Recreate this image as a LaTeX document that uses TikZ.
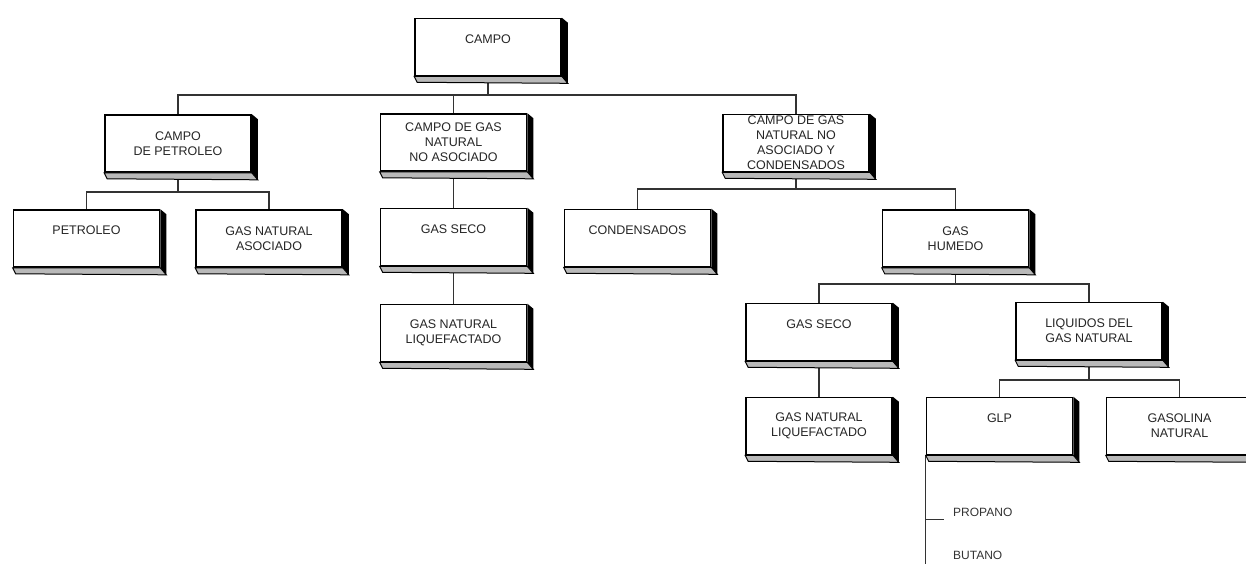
\documentclass[tikz,border=0pt]{standalone}
\usepackage{fontspec}
\setmainfont{Liberation Sans}
\usetikzlibrary{calc,backgrounds}
\tikzset{
  box/.style={draw=black, line width=1.6pt, fill=white, minimum width=146pt, minimum height=57pt,
    inner sep=0pt, align=center, font=\fontsize{12.5}{15}\selectfont, text=black!85},
  oneline/.style={text depth=16pt},
  link/.style={draw=black!80, line width=1.3pt},
  lbl/.style={font=\fontsize{12}{15}\selectfont, text=black!80, anchor=west, inner sep=0pt},
}
\begin{document}
\begin{tikzpicture}[x=1pt,y=-1pt]
\useasboundingbox (0,0) rectangle (1246,563);
% boxes
\node[box,oneline] (campo)    at (488,47)     {CAMPO};
\node[box] (petcampo) at (178,143.5)  {CAMPO\\DE PETROLEO};
\node[box] (nasoc)    at (453.5,142.5){CAMPO DE GAS\\NATURAL\\NO ASOCIADO};
\node[box] (cond4)    at (796,143)    {CAMPO DE GAS\\NATURAL NO\\ASOCIADO Y\\CONDENSADOS};
\node[box,oneline] (petroleo) at (86.5,238.5) {PETROLEO};
\node[box] (gasnat)   at (269,238.5)  {GAS NATURAL\\ASOCIADO};
\node[box,oneline] (gasseco1) at (453.5,237)  {GAS SECO};
\node[box] (gnl1)     at (453.5,333)  {GAS NATURAL\\LIQUEFACTADO};
\node[box,oneline] (condens)  at (637.5,238)  {CONDENSADOS};
\node[box] (humedo)   at (955.5,238.5){GAS\\HUMEDO};
\node[box,oneline] (gasseco2) at (819,332)    {GAS SECO};
\node[box] (liquidos) at (1089,331)   {LIQUIDOS DEL\\GAS NATURAL};
\node[box] (gnl2)     at (819,426)    {GAS NATURAL\\LIQUEFACTADO};
\node[box,oneline] (glp)      at (999.5,426)  {GLP};
\node[box] (gasolina) at (1179.5,426) {GASOLINA\\NATURAL};
% 3D faces
\foreach \n in {campo,petcampo,nasoc,cond4,petroleo,gasnat,gasseco1,gnl1,condens,humedo,gasseco2,liquidos,gnl2,glp,gasolina}{
  \fill[black] (\n.north east) -- ++(6,5) -- ($(\n.south east)+(6,7)$) -- (\n.south east) -- cycle;
  \filldraw[fill=gray!55, draw=black, line width=1pt] (\n.south west) -- ++(3,6) -- ($(\n.south east)+(6,7)$) -- (\n.south east) -- cycle;
}
% bus levels
\coordinate (b1) at (0,95);
\coordinate (b2) at (0,192);
\coordinate (b3) at (0,189);
\coordinate (b4) at (0,284);
\coordinate (b5) at (0,380);
\coordinate (glpend) at ($(glp.south west)+(0,130)$);
\coordinate (proptick) at ($(glp.south west)+(0,64)$);
\begin{scope}[on background layer]
  \draw[link] (campo.south) -- (campo.south |- b1);
  \draw[link] (petcampo.north) |- (b1 -| cond4.north) -- (cond4.north);
  \draw[link] (nasoc.north) -- (nasoc.north |- b1);
  \draw[link] (petcampo.south) -- (petcampo.south |- b2);
  \draw[link] (petroleo.north) |- (b2 -| gasnat.north) -- (gasnat.north);
  \draw[link] (nasoc.south) -- (gasseco1.north);
  \draw[link] (gasseco1.south) -- (gnl1.north);
  \draw[link] (cond4.south) -- (cond4.south |- b3);
  \draw[link] (condens.north) |- (b3 -| humedo.north) -- (humedo.north);
  \draw[link] (humedo.south) -- (humedo.south |- b4);
  \draw[link] (gasseco2.north) |- (b4 -| liquidos.north) -- (liquidos.north);
  \draw[link] (gasseco2.south) -- (gnl2.north);
  \draw[link] (liquidos.south) -- (liquidos.south |- b5);
  \draw[link] (glp.north) |- (b5 -| gasolina.north) -- (gasolina.north);
  \draw[link] (glp.south west) -- (glpend);
  \draw[link] (proptick) -- ++(18,0);
\end{scope}
\node[lbl] (propano) at (953,512) {PROPANO};
\node[lbl] (butano) at (953,555) {BUTANO};
\end{tikzpicture}
\end{document}
